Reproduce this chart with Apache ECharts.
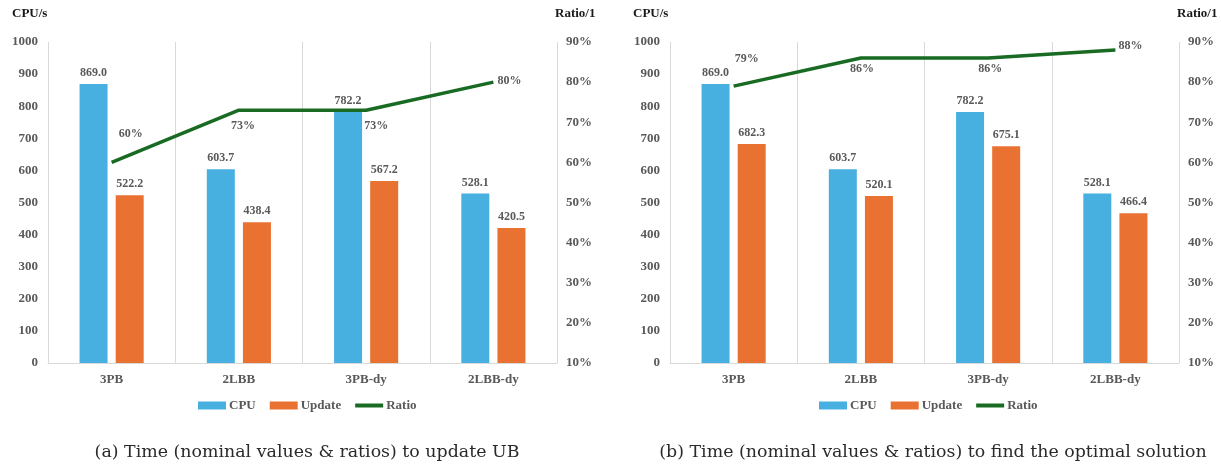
<!DOCTYPE html>
<html>
<head>
<meta charset="utf-8">
<script src="https://cdn.jsdelivr.net/npm/echarts@6/dist/echarts.min.js"></script>
<style>
html,body{margin:0;padding:0;background:#fff;}
#c{width:1221px;height:466px;}
</style>
</head>
<body>
<div id="c"></div>
<script>
const categories = ['3PB', '2LBB', '3PB-dy', '2LBB-dy'];
const cpuA = [869.0, 603.7, 782.2, 528.1];
const updateA = [522.2, 438.4, 567.2, 420.5];
const ratioA = [60, 73, 73, 80];
const cpuB = [869.0, 603.7, 782.2, 528.1];
const updateB = [682.3, 520.1, 675.1, 466.4];
const ratioB = [79, 86, 86, 88];
const leftTicks = {min: 0, max: 1000, interval: 100};
const rightTicks = {min: 10, max: 90, interval: 10};
const captionA = '(a) Time (nominal values & ratios) to update UB';
const captionB = '(b) Time (nominal values & ratios) to find the optimal solution';
// per-point label offsets (visual placement only)
const ratioOffsetsA = [[19, -28], [4, 16], [10, 16], [16, -1]];
const ratioOffsetsB = [[13, -27], [1, 11], [2, 11], [15, -4]];

const BLUE = '#47B0E0', ORANGE = '#E97132', GREEN = '#196B24';
const GRAY = '#595959', GRID = '#D9D9D9';
const FONT = 'Liberation Serif';

const chart = echarts.init(document.getElementById('c'), null, {renderer: 'canvas'});

function lbl(extra) {
  return Object.assign({fontFamily: FONT, fontWeight: 'bold', fontSize: 12, color: GRAY}, extra || {});
}

const grids = [
  {left: 48, top: 42, width: 509, height: 321},
  {left: 670, top: 42, width: 509, height: 321}
];

function xAxis(gi) {
  return {
    type: 'category', gridIndex: gi, data: categories,
    axisLine: {lineStyle: {color: GRID, width: 1}},
    axisTick: {show: false},
    splitLine: {show: true, lineStyle: {color: GRID, width: 1}},
    axisLabel: lbl({margin: 10, fontSize: 13})
  };
}
function yLeft(gi) {
  return Object.assign({
    type: 'value', gridIndex: gi, position: 'left',
    axisLine: {show: false}, axisTick: {show: false}, splitLine: {show: false},
    axisLabel: lbl({margin: 10, fontSize: 13, formatter: v => String(v)})
  }, leftTicks);
}
function yRight(gi) {
  return Object.assign({
    type: 'value', gridIndex: gi, position: 'right',
    axisLine: {show: false}, axisTick: {show: false}, splitLine: {show: false},
    axisLabel: lbl({margin: 9, fontSize: 13, formatter: v => v + '%'})
  }, rightTicks);
}

function series(gi, cpu, upd, ratio, offs) {
  return [
    {name: 'CPU', type: 'bar', xAxisIndex: gi, yAxisIndex: gi * 2, data: cpu,
     barWidth: 28, barGap: '29%', itemStyle: {color: BLUE},
     label: lbl({show: true, position: 'top', distance: 5, formatter: p => p.value.toFixed(1)})},
    {name: 'Update', type: 'bar', xAxisIndex: gi, yAxisIndex: gi * 2, data: upd,
     barWidth: 28, barGap: '29%', itemStyle: {color: ORANGE},
     label: lbl({show: true, position: 'top', distance: 5, formatter: p => p.value.toFixed(1)})},
    {name: 'Ratio', type: 'line', xAxisIndex: gi, yAxisIndex: gi * 2 + 1,
     data: ratio.map((v, i) => ({value: v, label: {offset: offs[i]}})),
     symbol: 'circle', symbolSize: 1, showSymbol: true,
     itemStyle: {color: 'rgba(0,0,0,0)', borderWidth: 0},
     lineStyle: {color: GREEN, width: 3.5},
     label: lbl({show: true, position: 'inside', formatter: '{c}%'}),
     z: 5}
  ];
}

function legend(left) {
  return {
    left: left, top: 394, itemWidth: 28, itemHeight: 8, itemGap: 14,
    textStyle: lbl({fontSize: 13, padding: [0, 0, 0, -2]}),
    data: [
      {name: 'CPU', icon: 'rect', itemStyle: {color: BLUE}},
      {name: 'Update', icon: 'rect', itemStyle: {color: ORANGE}},
      {name: 'Ratio', icon: 'path://M0,0H28V4H0Z', itemStyle: {color: GREEN, borderWidth: 0}}
    ],
    selectedMode: false
  };
}

function ttl(text, left) {
  return {text: text, left: left, top: 2,
    textStyle: {fontFamily: FONT, fontWeight: 'bold', fontSize: 13, color: '#1a1a1a'}};
}

chart.setOption({
  animation: false,
  title: [ttl('CPU/s', 7), ttl('Ratio/1', 550), ttl('CPU/s', 628), ttl('Ratio/1', 1172)],
  grid: grids,
  legend: [legend(193), legend(814)],
  xAxis: [xAxis(0), xAxis(1)],
  yAxis: [yLeft(0), yRight(0), yLeft(1), yRight(1)],
  series: [].concat(series(0, cpuA, updateA, ratioA, ratioOffsetsA),
                    series(1, cpuB, updateB, ratioB, ratioOffsetsB)),
  graphic: [
    {type: 'text', x: 307, y: 452, style: {text: captionA, textAlign: 'center', textVerticalAlign: 'middle',
      font: '17.4px "DejaVu Serif"', fill: '#2a2a2a'}},
    {type: 'text', x: 933, y: 452, style: {text: captionB, textAlign: 'center', textVerticalAlign: 'middle',
      font: '17.4px "DejaVu Serif"', fill: '#2a2a2a'}}
  ]
});
</script>
</body>
</html>
